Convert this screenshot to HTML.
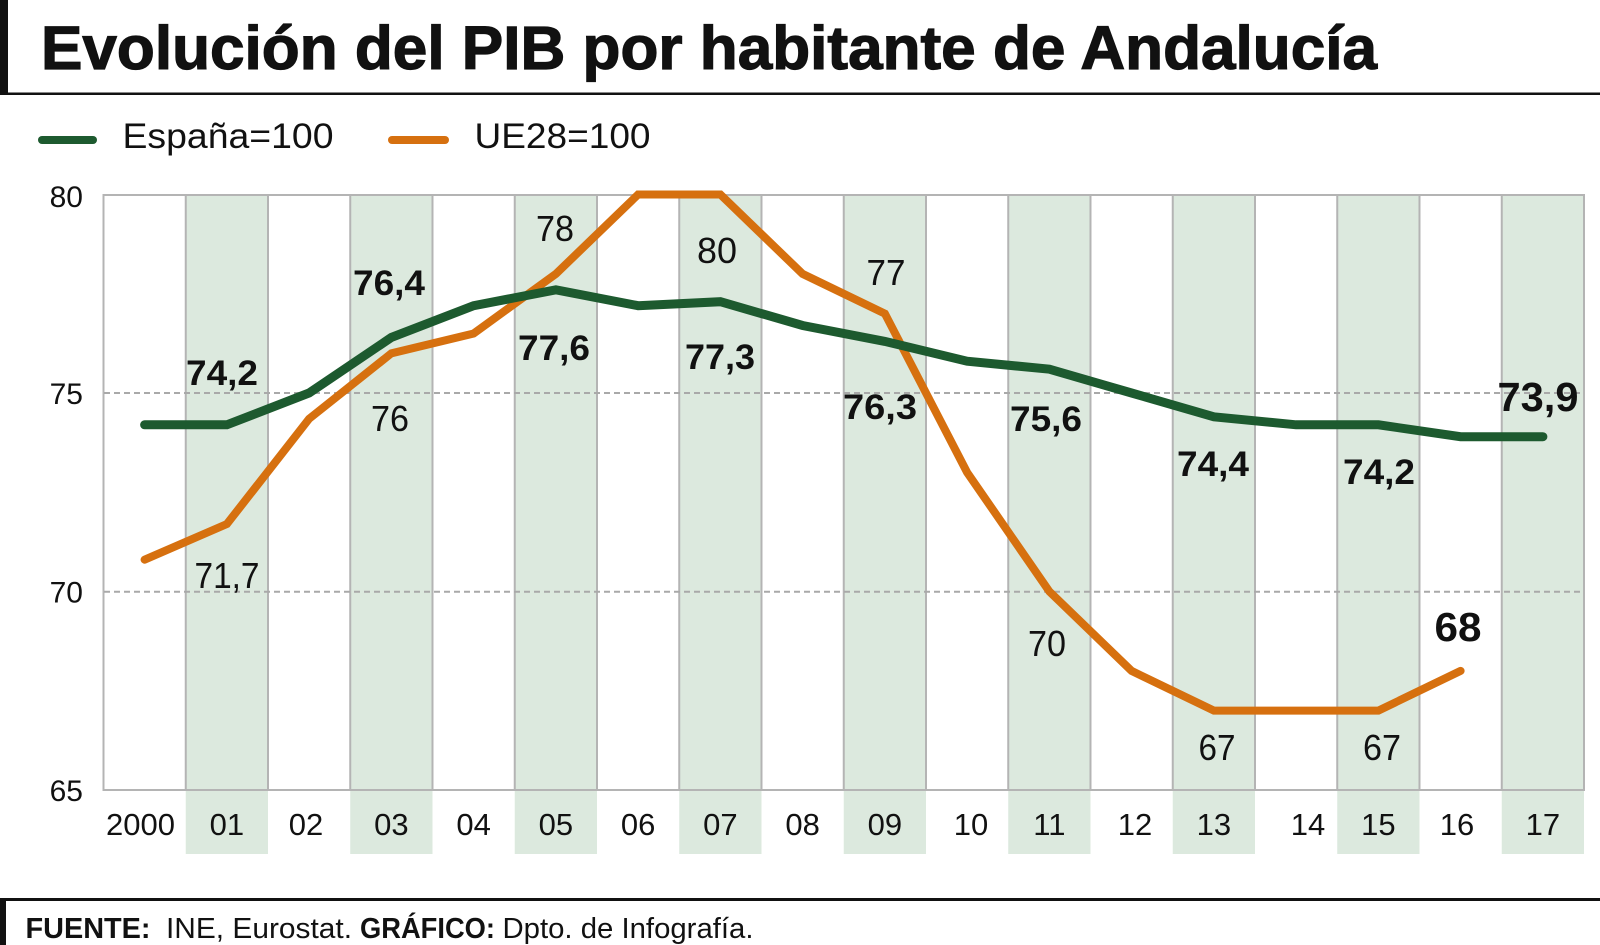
<!DOCTYPE html>
<html>
<head>
<meta charset="utf-8">
<style>
html,body{margin:0;padding:0;background:#fff;}
svg{display:block;}
text{font-family:"Liberation Sans",sans-serif;fill:#111;}
</style>
</head>
<body>
<svg width="1600" height="945" viewBox="0 0 1600 945" xmlns="http://www.w3.org/2000/svg">
  <!-- Title block -->
  <rect x="0" y="0" width="8" height="94" fill="#111"/>
  <rect x="0" y="92.5" width="1600" height="2.5" fill="#111"/>
  <text x="41" y="69" font-size="61" font-weight="bold" textLength="1336" lengthAdjust="spacingAndGlyphs" stroke="#111" stroke-width="1.2">Evolución del PIB por habitante de Andalucía</text>

  <!-- Legend -->
  <line x1="42" y1="140" x2="93" y2="140" stroke="#1d5a2f" stroke-width="8" stroke-linecap="round"/>
  <text x="122.5" y="148" font-size="35" textLength="211" lengthAdjust="spacingAndGlyphs">España=100</text>
  <line x1="392" y1="140" x2="445" y2="140" stroke="#d6700f" stroke-width="8" stroke-linecap="round"/>
  <text x="474.5" y="148" font-size="35" textLength="176" lengthAdjust="spacingAndGlyphs">UE28=100</text>

  <!-- Bands (odd columns) -->
  <g fill="#dce9de">
    <rect x="185.75" y="195" width="82.25" height="659"/>
    <rect x="350.25" y="195" width="82.25" height="659"/>
    <rect x="514.75" y="195" width="82.25" height="659"/>
    <rect x="679.25" y="195" width="82.25" height="659"/>
    <rect x="843.75" y="195" width="82.25" height="659"/>
    <rect x="1008.25" y="195" width="82.25" height="659"/>
    <rect x="1172.75" y="195" width="82.25" height="659"/>
    <rect x="1337.25" y="195" width="82.25" height="659"/>
    <rect x="1501.75" y="195" width="82.25" height="659"/>
  </g>

  <!-- Vertical grid lines -->
  <g stroke="#b4b4b4" stroke-width="2">
    <line x1="103.5" y1="195" x2="103.5" y2="790"/>
    <line x1="185.75" y1="195" x2="185.75" y2="790"/>
    <line x1="268" y1="195" x2="268" y2="790"/>
    <line x1="350.25" y1="195" x2="350.25" y2="790"/>
    <line x1="432.5" y1="195" x2="432.5" y2="790"/>
    <line x1="514.75" y1="195" x2="514.75" y2="790"/>
    <line x1="597" y1="195" x2="597" y2="790"/>
    <line x1="679.25" y1="195" x2="679.25" y2="790"/>
    <line x1="761.5" y1="195" x2="761.5" y2="790"/>
    <line x1="843.75" y1="195" x2="843.75" y2="790"/>
    <line x1="926" y1="195" x2="926" y2="790"/>
    <line x1="1008.25" y1="195" x2="1008.25" y2="790"/>
    <line x1="1090.5" y1="195" x2="1090.5" y2="790"/>
    <line x1="1172.75" y1="195" x2="1172.75" y2="790"/>
    <line x1="1255" y1="195" x2="1255" y2="790"/>
    <line x1="1337.25" y1="195" x2="1337.25" y2="790"/>
    <line x1="1419.5" y1="195" x2="1419.5" y2="790"/>
    <line x1="1501.75" y1="195" x2="1501.75" y2="790"/>
    <line x1="1584" y1="195" x2="1584" y2="790"/>
    <line x1="102.5" y1="195" x2="1585" y2="195"/>
    <line x1="102.5" y1="790" x2="1585" y2="790"/>
  </g>
  <!-- Dashed horizontal gridlines -->
  <g stroke="#a9a9a9" stroke-width="2" stroke-dasharray="6,4">
    <line x1="104" y1="393" x2="1583" y2="393"/>
    <line x1="104" y1="591.7" x2="1583" y2="591.7"/>
  </g>

  <!-- Y labels -->
  <g font-size="30" text-anchor="end">
    <text x="83" y="207">80</text>
    <text x="83" y="404">75</text>
    <text x="83" y="602.5">70</text>
    <text x="83" y="801">65</text>
  </g>

  <!-- X labels -->
  <g font-size="31" text-anchor="middle">
    <text x="140.5" y="835">2000</text>
    <text x="226.9" y="835">01</text>
    <text x="306" y="835">02</text>
    <text x="391.4" y="835">03</text>
    <text x="473.6" y="835">04</text>
    <text x="555.9" y="835">05</text>
    <text x="638.1" y="835">06</text>
    <text x="720.4" y="835">07</text>
    <text x="802.6" y="835">08</text>
    <text x="884.9" y="835">09</text>
    <text x="971" y="835">10</text>
    <text x="1049.4" y="835">11</text>
    <text x="1135" y="835">12</text>
    <text x="1213.9" y="835">13</text>
    <text x="1308" y="835">14</text>
    <text x="1378.4" y="835">15</text>
    <text x="1457" y="835">16</text>
    <text x="1542.9" y="835">17</text>
  </g>

  <!-- Series lines -->
  <polyline fill="none" stroke="#d6700f" stroke-width="8" stroke-linecap="round" stroke-linejoin="miter"
    points="144.6,559.7 226.9,524.0 309.1,418.8 391.4,353.3 473.6,333.5 555.9,273.9 638.1,194.5 720.4,194.5 802.6,273.9 884.9,313.6 967.1,472.4 1049.4,591.5 1131.6,670.9 1213.9,710.6 1296.1,710.6 1378.4,710.6 1460.6,670.9"/>
  <polyline fill="none" stroke="#1d5a2f" stroke-width="9" stroke-linecap="round" stroke-linejoin="miter"
    points="144.6,424.8 226.9,424.8 309.1,393.0 391.4,337.4 473.6,305.7 555.9,289.8 638.1,305.7 720.4,301.7 802.6,325.5 884.9,341.4 967.1,361.2 1049.4,369.2 1131.6,393.0 1213.9,416.8 1296.1,424.8 1378.4,424.8 1460.6,436.7 1542.9,436.7"/>

  <!-- Green (España) value labels -->
  <g font-size="35" font-weight="bold" text-anchor="middle">
    <text x="222" y="385" textLength="72" lengthAdjust="spacingAndGlyphs">74,2</text>
    <text x="389" y="295" textLength="72" lengthAdjust="spacingAndGlyphs">76,4</text>
    <text x="554" y="360" textLength="72" lengthAdjust="spacingAndGlyphs">77,6</text>
    <text x="720" y="369" textLength="70" lengthAdjust="spacingAndGlyphs">77,3</text>
    <text x="880" y="419" textLength="74" lengthAdjust="spacingAndGlyphs">76,3</text>
    <text x="1046" y="431" textLength="72" lengthAdjust="spacingAndGlyphs">75,6</text>
    <text x="1213" y="476" textLength="72" lengthAdjust="spacingAndGlyphs">74,4</text>
    <text x="1379" y="484" textLength="72" lengthAdjust="spacingAndGlyphs">74,2</text>
    <text x="1538" y="411" font-size="41" textLength="81" lengthAdjust="spacingAndGlyphs">73,9</text>
  </g>

  <!-- Orange (UE28) value labels -->
  <g font-size="36" text-anchor="middle">
    <text x="227" y="588" textLength="65" lengthAdjust="spacingAndGlyphs">71,7</text>
    <text x="390" y="431" textLength="38" lengthAdjust="spacingAndGlyphs">76</text>
    <text x="555" y="241" textLength="38" lengthAdjust="spacingAndGlyphs">78</text>
    <text x="717" y="263" textLength="40" lengthAdjust="spacingAndGlyphs">80</text>
    <text x="886" y="285" textLength="39" lengthAdjust="spacingAndGlyphs">77</text>
    <text x="1047" y="656" textLength="38" lengthAdjust="spacingAndGlyphs">70</text>
    <text x="1217" y="760" textLength="37" lengthAdjust="spacingAndGlyphs">67</text>
    <text x="1382" y="760" textLength="38" lengthAdjust="spacingAndGlyphs">67</text>
    <text x="1458" y="641" font-size="41" font-weight="bold" textLength="47" lengthAdjust="spacingAndGlyphs">68</text>
  </g>

  <!-- Footer -->
  <rect x="0" y="898" width="1600" height="3" fill="#111"/>
  <rect x="0" y="900" width="6" height="45" fill="#111"/>
  <text x="25.5" y="938" font-size="29" font-weight="bold" textLength="125" lengthAdjust="spacingAndGlyphs">FUENTE:</text>
  <text x="166" y="938" font-size="29" textLength="186" lengthAdjust="spacingAndGlyphs">INE, Eurostat.</text>
  <text x="360" y="938" font-size="29" font-weight="bold" textLength="135" lengthAdjust="spacingAndGlyphs">GRÁFICO:</text>
  <text x="502.5" y="938" font-size="29" textLength="251" lengthAdjust="spacingAndGlyphs">Dpto. de Infografía.</text>
</svg>
</body>
</html>
